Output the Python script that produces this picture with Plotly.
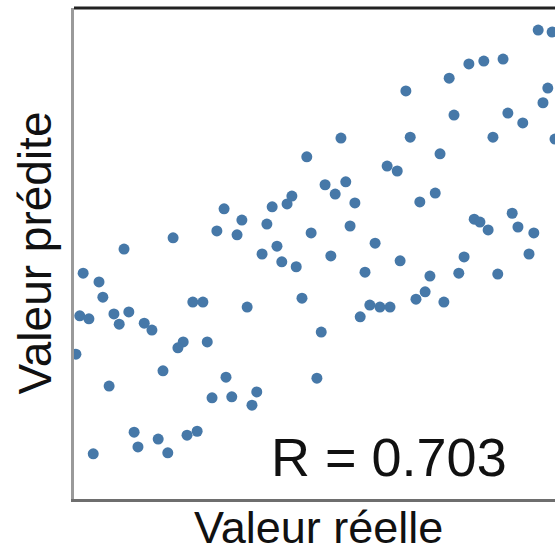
import plotly.graph_objects as go

valeur_reelle = [
    96.5, 99.4, 82.1, 85.2, 89.2, 78.0, 69.0, 98.5, 97.5, 79.0,
    90.2, 93.3, 69.9, 87.1, 100.0, 76.1, 65.1, 67.2, 55.5, 48.4,
    52.2, 56.5, 54.3, 58.4, 45.3, 44.3, 41.2, 31.2, 34.9, 40.1,
    33.9, 49.3, 57.4, 62.6, 42.2, 39.1, 43.2, 46.2, 53.4, 60.5,
    47.4, 36.0, 61.5, 63.6, 65.7, 59.5, 51.4, 75.1, 71.9, 83.2,
    84.4, 86.1, 91.1, 92.3, 95.6, 94.6, 81.1, 67.8, 74.0, 80.0,
    88.1, 73.0, 71.1, 76.9, 29.7, 20.6, 10.4, 1.9, 5.2, 6.0,
    1.2, 3.1, 8.3, 9.4, 11.4, 14.6, 16.2, 24.7, 26.8, 22.7,
    21.6, 27.7, 0.4, 18.5, 7.3, 31.6, 28.7, 32.8, 12.5, 13.3,
    17.5, 19.5, 23.5, 25.6, 4.0, 50.5, 38.0, 37.0,
]
valeur_predite = [
    95.5, 95.1, 88.6, 89.2, 89.6, 85.7, 83.1, 83.7, 80.7, 78.2,
    78.6, 76.6, 73.7, 73.7, 73.3, 70.3, 67.8, 66.8, 73.5, 69.7,
    64.0, 64.6, 62.1, 60.3, 61.7, 60.1, 59.5, 59.1, 56.8, 56.0,
    53.8, 54.2, 55.6, 52.1, 51.5, 49.9, 48.3, 47.3, 49.5, 46.2,
    40.9, 39.1, 39.5, 39.1, 39.1, 37.1, 34.0, 62.3, 60.5, 57.0,
    56.4, 54.8, 58.2, 55.4, 54.2, 49.9, 49.3, 48.5, 45.4, 46.0,
    45.8, 42.2, 40.7, 40.1, 54.6, 53.2, 50.9, 46.0, 44.2, 41.1,
    37.3, 36.7, 37.7, 35.6, 38.1, 35.8, 34.4, 40.1, 40.1, 32.0,
    30.8, 32.0, 29.5, 26.1, 23.0, 24.8, 20.6, 20.8, 13.6, 10.6,
    12.2, 9.4, 13.0, 13.8, 9.2, 24.6, 21.8, 19.1,
]

titre_x = "Valeur réelle"
titre_y = "Valeur prédite"
texte_r = "R = 0.703"

FONT = "Liberation Sans, Arial, sans-serif"

fig = go.Figure()
fig.add_trace(go.Scatter(
    x=valeur_reelle, y=valeur_predite, mode="markers",
    marker=dict(size=11, color="#4678a8", line=dict(width=0)),
    cliponaxis=True, hoverinfo="skip", showlegend=False,
))

fig.update_layout(
    width=555, height=551,
    margin=dict(l=74, r=0, t=8, b=52),
    paper_bgcolor="white", plot_bgcolor="white",
    font=dict(family=FONT, color="#111"),
    xaxis=dict(range=[0, 100], showgrid=False, zeroline=False, showticklabels=False,
               ticks="", showline=True, linecolor="#6e6e6e", linewidth=3),
    yaxis=dict(range=[0, 100], showgrid=False, zeroline=False, showticklabels=False,
               ticks="", showline=True, linecolor="#9a9a9a", linewidth=3),
    shapes=[dict(type="line", xref="paper", yref="paper", x0=0, x1=1, y0=1, y1=1,
                 line=dict(color="#222", width=3))],
    annotations=[
        dict(text=titre_x, xref="paper", yref="paper", x=0.508, y=0, xanchor="center",
             yanchor="top", yshift=-1, showarrow=False, font=dict(size=45, family=FONT, color="#111")),
        dict(text=titre_y, xref="paper", yref="paper", x=0, y=0.5, xanchor="right",
             yanchor="middle", xshift=-12, textangle=-90, showarrow=False,
             font=dict(size=46, family=FONT, color="#111")),
        dict(text=texte_r, xref="paper", yref="paper", x=0.655, y=0.0855, xanchor="center",
             yanchor="middle", showarrow=False, font=dict(size=54, family=FONT, color="#111")),
    ],
)

fig.write_html("out.html")
